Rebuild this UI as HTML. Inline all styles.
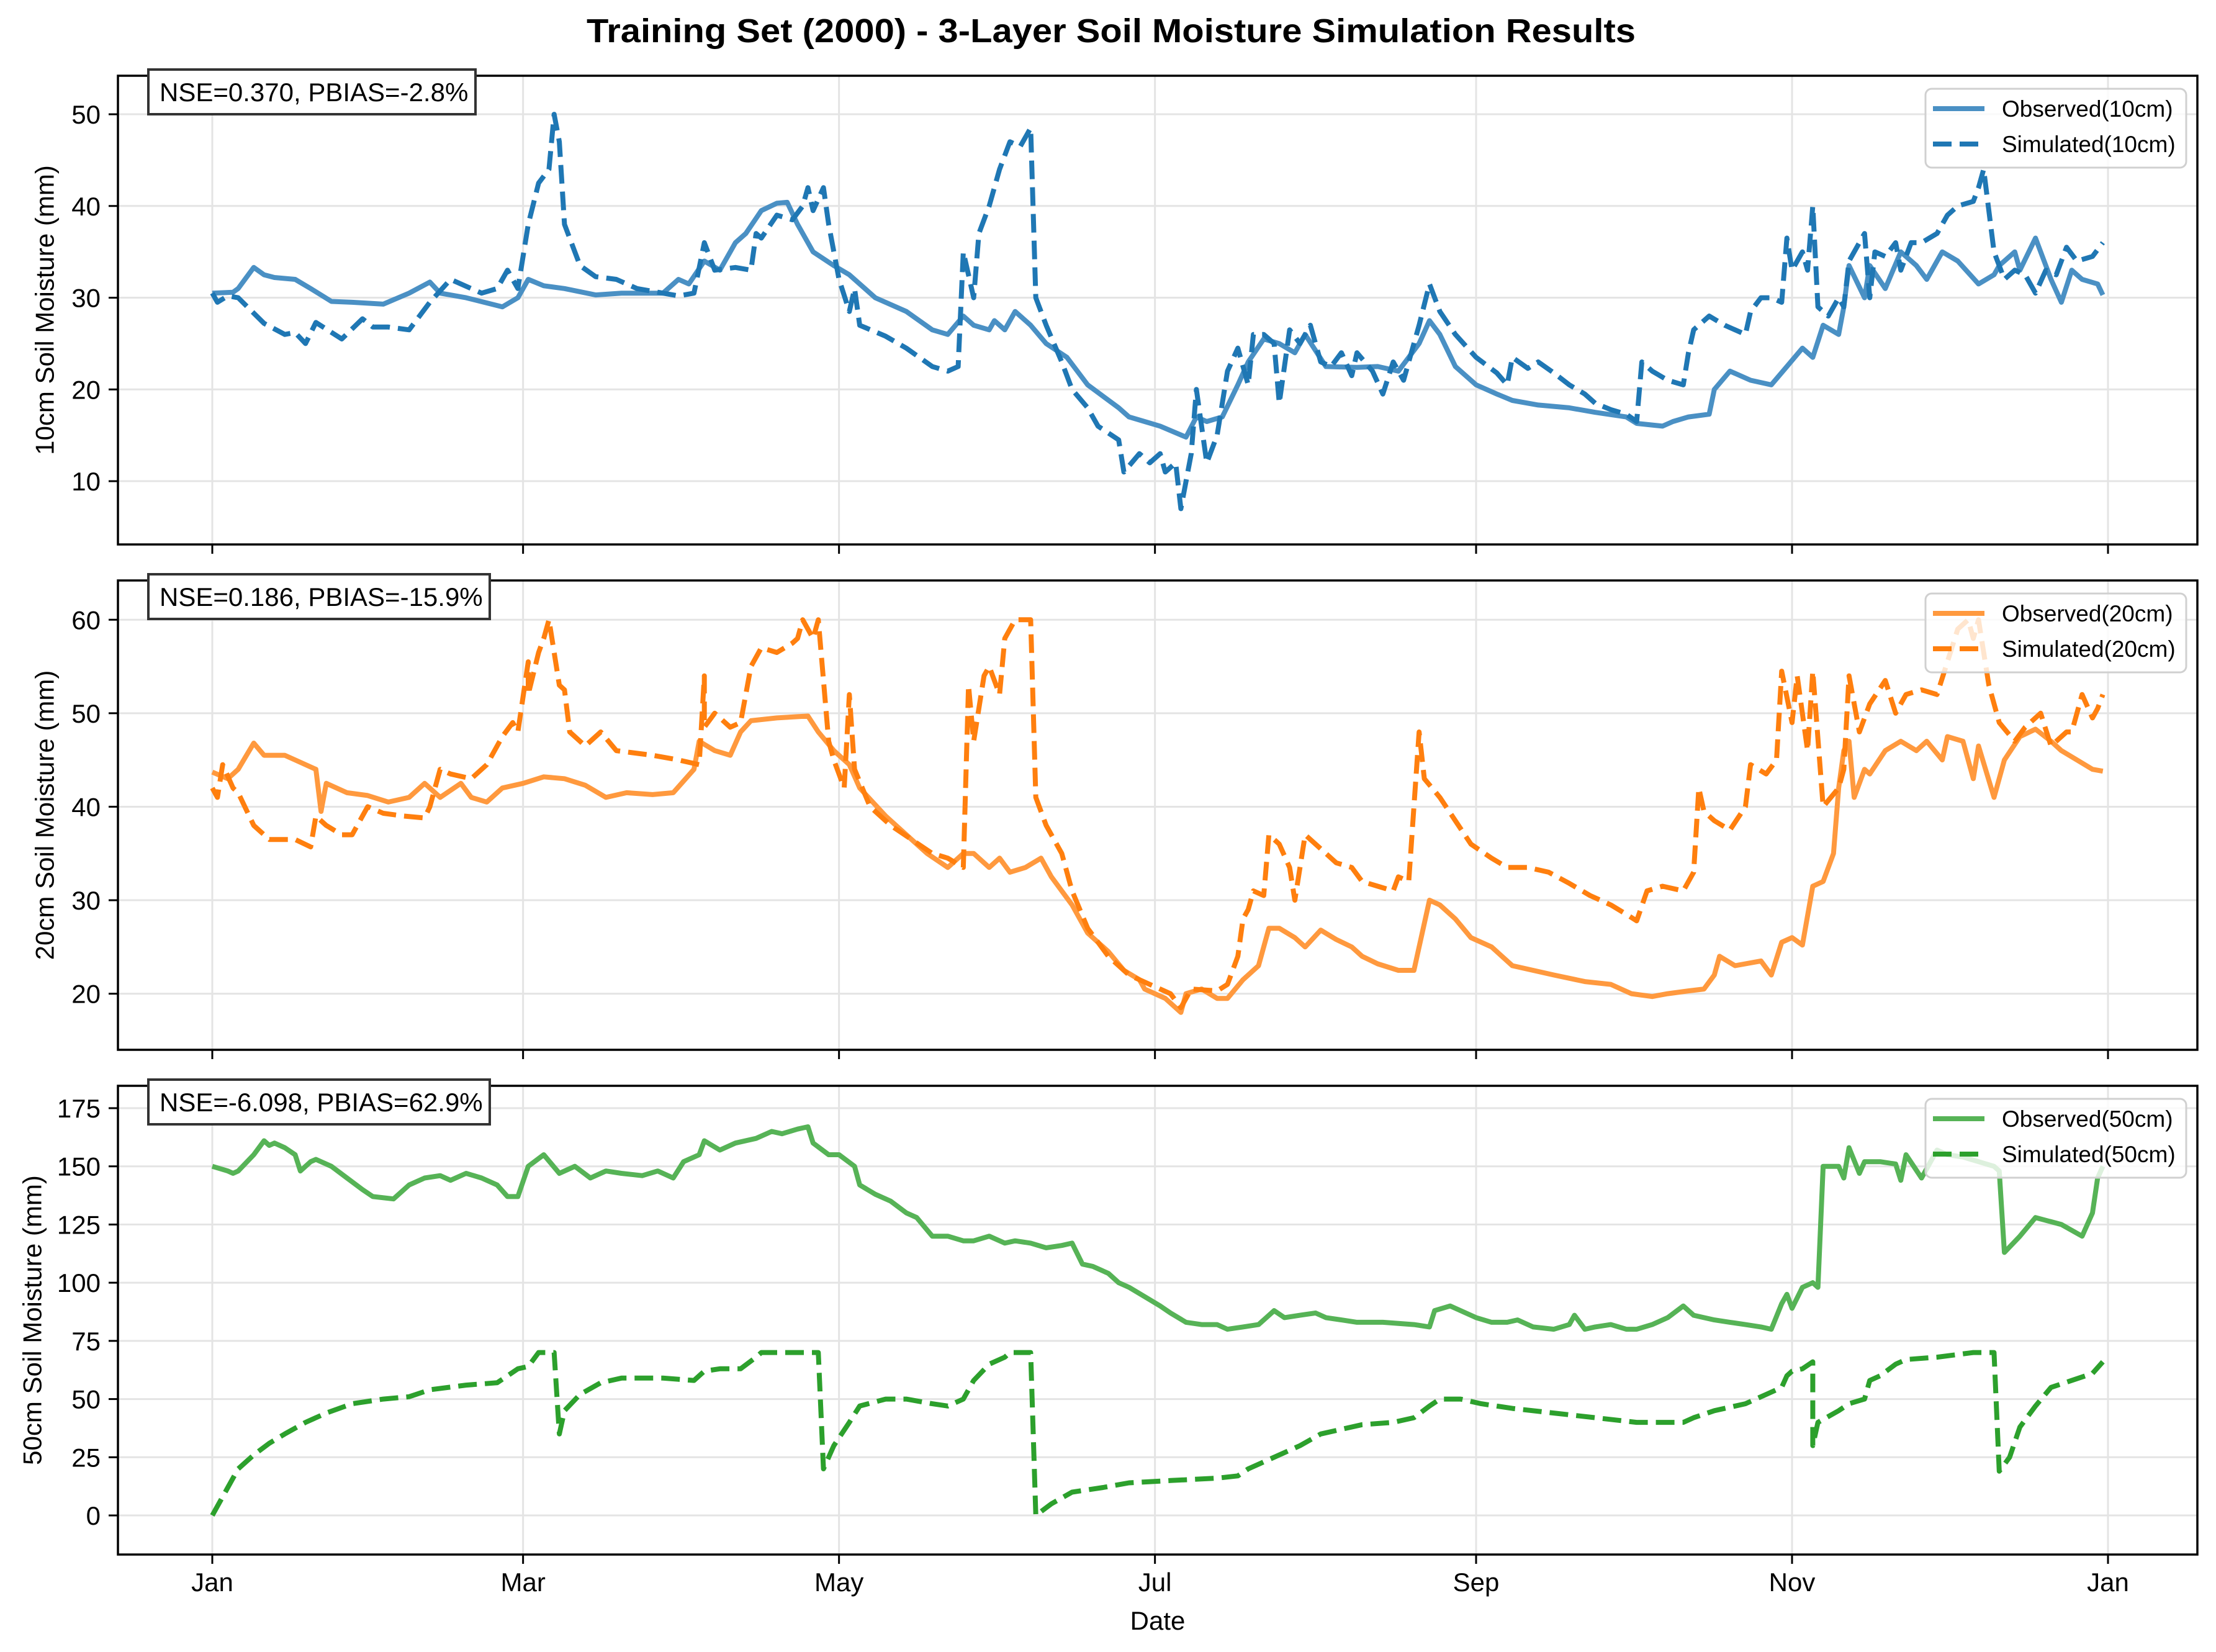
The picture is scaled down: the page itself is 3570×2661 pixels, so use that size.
<!DOCTYPE html>
<html><head><meta charset="utf-8"><title>Training Set (2000) - 3-Layer Soil Moisture</title>
<style>
html,body{margin:0;padding:0;background:#fff;}
svg{display:block;font-family:"Liberation Sans",Arial,sans-serif;}
</style></head>
<body>
<svg id="chart" xmlns="http://www.w3.org/2000/svg" width="3570" height="2661" viewBox="0 0 3570 2661">
<rect x="0" y="0" width="3570" height="2661" fill="#fff"/>
<text x="1790" y="68" text-anchor="middle" font-size="54" font-weight="bold" fill="#000" textLength="1690" lengthAdjust="spacingAndGlyphs">Training Set (2000) - 3-Layer Soil Moisture Simulation Results</text>
<text x="1865" y="2625" text-anchor="middle" font-size="42" fill="#000">Date</text>
</svg>
<script>
// ---- data (day-of-year index, 0 = Jan 1 2000) ----
const monthTickDays = [0, 60, 121, 182, 244, 305, 366];
const monthTickLabels = ["Jan", "Mar", "May", "Jul", "Sep", "Nov", "Jan"];

const obs10Days = [0,4,5,8,10,12,16,19,23,27,33,38,42,44,49,56,59,61,64,68,74,79,87,90,92,95,98,101,103,106,109,111,113,116,120,123,128,134,139,142,145,147,150,151,153,155,158,161,165,169,175,177,180,183,188,190,192,195,198,200,203,206,209,211,215,221,225,229,233,235,237,240,244,248,251,256,262,267,273,275,280,282,285,289,290,293,297,301,304,307,309,311,314,315,316,319,320,323,326,329,331,334,337,341,344,345,348,349,352,355,357,359,361,364,365];
const obs10Vals = [30.5,30.6,31,33.3,32.5,32.2,32,31,29.6,29.5,29.3,30.5,31.7,30.5,30,29,30,32,31.3,31,30.3,30.5,30.5,32,31.5,34,33,36,37,39.5,40.3,40.4,38,35,33.5,32.5,30,28.5,26.5,26,28,27,26.5,27.5,26.5,28.5,27,25,23.5,20.5,18,17,16.5,16,14.8,17,16.5,17,20.5,23,25.5,25,24,26,22.5,22.4,22.5,22,25,27.5,26,22.5,20.5,19.5,18.8,18.3,18,17.5,17,16.3,16,16.5,17,17.3,20,22,21,20.5,22.5,24.5,23.5,27,26,29,33.5,30,33.5,31,35,33.5,32,35,34,31.5,32.5,33.5,35,33,36.5,32,29.5,33,32,31.5,30.3];
const sim10Days = [0,1,3,5,10,14,16,18,20,25,29,31,34,38,42,46,52,55,57,59,61,63,65,66,67,68,71,74,78,82,87,90,93,95,97,101,104,105,106,109,112,114,115,116,118,119,121,123,124,125,130,134,139,142,144,145,147,148,150,152,154,156,158,159,161,164,166,169,171,175,176,179,181,183,184,186,187,189,190,192,194,196,198,200,201,203,205,206,208,210,212,214,216,218,220,221,224,226,228,230,231,233,235,237,240,244,248,250,251,254,256,259,262,265,267,270,273,275,276,278,281,284,285,286,289,292,296,297,299,301,303,304,305,307,308,309,310,312,314,315,316,319,320,321,323,325,326,328,330,333,335,337,340,341,342,344,346,348,350,352,354,356,358,360,363,365];
const sim10Vals = [30.5,29.5,30.2,30,27.2,26,26.2,25,27.3,25.5,27.7,26.8,26.8,26.5,29.5,32,30.5,31,33,31,38,42.5,44,50,47,38,33.5,32.3,32,31,30.5,30.2,30.5,36,33,33.3,33,37,36.5,39,38.5,40,42,39.5,42,38,32,28.5,31,27,25.8,24.5,22.5,22,22.5,35,30,37,40,44,47,46.5,48.5,30,27,23,20,18,16,14.5,11,13,12,13,11,12,7,13,20,12,15,22,24.5,20.5,26,26,25,18.5,26.5,25,27,23,22.5,24,21.5,24,22,19.5,23,21,23,27,31.5,28.5,26,23.5,21.8,20.5,23.5,22.3,23,21.8,20.5,19.5,18.5,17.8,17.3,16.5,23,22,21,20.5,24,26.5,28,27,26,28.5,30,30,29.5,36.5,33,35,33,40,29,28,30,29,34,37,30,35,34.5,36,33,36,36,37,39,40,40.5,42,44,35,32,33,32.5,30.5,33,32.5,35.5,34,34.5,36];

const obs20Days = [0,3,5,8,10,14,16,20,21,22,26,30,34,38,41,44,48,50,53,56,60,64,68,72,76,80,85,89,93,94,97,100,102,104,109,115,117,120,123,125,130,134,138,142,145,147,150,152,154,157,160,162,166,169,173,176,179,180,184,187,188,191,194,196,199,202,204,206,209,211,214,217,220,222,225,229,232,233,235,237,240,243,247,251,255,259,265,270,274,278,281,285,288,290,291,294,299,301,303,305,307,309,311,313,314,315,316,317,319,320,323,326,329,331,334,335,338,340,341,344,346,349,352,355,357,360,363,365];
const obs20Vals = [43.7,43,44,46.8,45.5,45.5,45,44,39.5,42.5,41.5,41.2,40.5,41,42.5,41,42.5,41,40.5,42,42.5,43.2,43,42.3,41,41.5,41.3,41.5,44,47,46,45.5,48,49.2,49.5,49.7,48,46,44.5,42,39,37,35,33.5,35,35,33.5,34.5,33,33.5,34.5,32.5,29.5,26.5,24.5,22.5,21.5,20.5,19.5,18,20,20.5,19.5,19.5,21.5,23,27,27,26,25,26.8,25.8,25,24,23.2,22.5,22.5,25,30,29.5,28,26,25,23,22.5,22,21.3,21,20,19.7,20,20.3,20.5,22,24,23,23.5,22,25.5,26,25.2,31.5,32,35,42,46,47,41,44,43.5,46,47,46,47,45,47.5,47,43,46.5,41,45,47.5,48.3,47,46,45,44,43.8];
const sim20Days = [0,1,2,4,5,8,11,14,16,19,20,22,25,27,30,33,37,41,42,44,46,50,53,56,58,59,61,61,63,64,65,67,68,69,72,75,78,85,90,94,95,95,97,100,102,104,106,109,112,113,114,116,117,119,120,122,123,124,127,131,135,139,142,145,146,147,149,150,152,153,155,158,159,161,164,166,169,173,177,181,185,187,189,194,196,198,199,200,201,203,204,206,208,209,211,214,217,220,222,225,228,229,231,233,234,237,240,243,247,250,254,258,262,266,270,273,275,277,280,284,286,287,288,290,293,296,297,300,302,303,305,306,308,309,311,314,315,316,318,320,323,325,327,330,333,335,337,339,340,341,343,345,348,350,353,355,358,359,361,363,364,365];
const sim20Vals = [42,41,44.5,42,41.5,38,36.5,36.5,36.5,35.7,39,38,37,37,40,39.3,39,38.8,40,44,43.5,43,44.5,47.5,49,48,55.5,52,56.5,58,60,53,52.5,48,46.5,48,46,45.5,45,44.5,54,48.5,50,48.5,49,55,57,56.5,57.5,58,60,58,60,47,45,42,52,44,40,38,36.5,35,34.5,33.5,53,47,54,55,52,58,60,60,41,38,35,31,27,24,22,21,20,18.5,20.5,20.3,21,24,28,29,31,30.5,37,36,33.5,30,37,35.5,34,33.5,32,31.5,31,32.5,32,48,43,41,38.5,36,34.5,33.5,33.5,33,31.8,30.5,29.5,28.5,27.8,31,31.5,31,33,42,39.5,38.5,37.5,40,44.5,43.5,45,54.5,49,54,46,54.5,40,42,44,54,48,51,53.5,50,52,52.5,52,55.5,59,60,58,60,53,49,47,48.5,50,46.5,48,48,52,49.5,50.5,52];

const obs50Days = [0,3,4,5,8,10,11,12,14,16,17,19,20,23,26,29,31,35,38,41,44,46,49,52,55,57,59,61,64,67,70,73,76,79,83,86,89,91,94,95,98,101,105,108,110,113,115,116,119,121,124,125,128,131,134,136,139,142,145,147,150,153,155,158,161,164,166,168,170,173,175,177,180,183,185,188,191,194,196,199,202,205,207,210,213,215,218,221,226,232,235,236,239,241,244,247,250,252,255,259,262,263,265,267,270,273,275,278,281,284,286,288,290,293,296,299,301,303,304,305,307,309,310,311,314,315,316,318,319,322,325,326,327,330,333,335,338,341,344,345,346,349,352,357,361,363,364,365];
const obs50Vals = [150,148,147,148,155,161,159,160,158,155,148,152,153,150,145,140,137,136,142,145,146,144,147,145,142,137,137,150,155,147,150,145,148,147,146,148,145,152,155,161,157,160,162,165,164,166,167,160,155,155,150,142,138,135,130,128,120,120,118,118,120,117,118,117,115,116,117,108,107,104,100,98,94,90,87,83,82,82,80,81,82,88,85,86,87,85,84,83,83,82,81,88,90,88,85,83,83,84,81,80,82,86,80,81,82,80,80,82,85,90,86,85,84,83,82,81,80,91,95,89,98,100,98,150,150,145,158,147,152,152,151,144,155,145,157,155,154,152,150,148,113,120,128,125,120,130,145,150];
const sim50Days = [0,3,5,8,11,14,18,22,27,33,38,42,49,55,57,59,61,63,65,66,67,68,71,75,79,87,93,95,98,102,105,106,117,118,120,123,125,130,134,139,142,145,147,150,153,154,158,159,162,166,172,177,185,194,198,200,205,210,214,218,222,228,232,235,237,241,245,251,259,267,275,284,286,290,296,300,303,304,305,307,309,309,310,314,316,319,320,322,325,327,333,340,344,345,347,349,352,355,359,363,365];
const sim50Vals = [0,12,20,26,31,35,40,44,48,50,51,54,56,57,60,63,64,70,70,70,35,45,52,57,59,59,58,62,63,63,68,70,70,20,30,40,47,50,50,48,47,50,58,65,68,70,70,0,5,10,12,14,15,16,17,20,25,30,35,37,39,40,42,47,50,50,48,46,44,42,40,40,42,45,48,52,55,60,62,63,66,30,40,45,48,50,58,60,65,67,68,70,70,19,25,38,47,55,58,61,66];

const panelTicks10 = [10, 20, 30, 40, 50];
const panelTicks20 = [20, 30, 40, 50, 60];
const panelTicks50 = [0, 25, 50, 75, 100, 125, 150, 175];

// ---- layout ----
const NS = "http://www.w3.org/2000/svg";
const svg = document.getElementById('chart');
const X0 = 190, X1 = 3540;
const xDay = d => 342 + d * (3396 - 342) / 366;

const panels = [
  {top:122, bottom:877, ymin:3.1, ymax:54.2, ticks:panelTicks10, label:"10cm Soil Moisture (mm)", labelX:72,
   stat:"NSE=0.370, PBIAS=-2.8%", boxW:527, depth:"10cm", obsC:"#4a90c4", simC:"#1f77b4",
   obsD:obs10Days, obsV:obs10Vals, simD:sim10Days, simV:sim10Vals, key:"10cm"},
  {top:935, bottom:1691, ymin:14.0, ymax:64.2, ticks:panelTicks20, label:"20cm Soil Moisture (mm)", labelX:72,
   stat:"NSE=0.186, PBIAS=-15.9%", boxW:550, depth:"20cm", obsC:"#ff993e", simC:"#ff7f0e",
   obsD:obs20Days, obsV:obs20Vals, simD:sim20Days, simV:sim20Vals, key:"20cm"},
  {top:1749, bottom:2504, ymin:-16.8, ymax:184.6, ticks:panelTicks50, label:"50cm Soil Moisture (mm)", labelX:52,
   stat:"NSE=-6.098, PBIAS=62.9%", boxW:550, depth:"50cm", obsC:"#56b356", simC:"#2ca02c",
   obsD:obs50Days, obsV:obs50Vals, simD:sim50Days, simV:sim50Vals, key:"50cm"}
];

function mk(tag, attrs, parent) {
  const e = document.createElementNS(NS, tag);
  for (const k in attrs) e.setAttribute(k, attrs[k]);
  (parent || svg).appendChild(e);
  return e;
}

panels.forEach((p, pi) => {
  const yv = v => p.bottom - (v - p.ymin) / (p.ymax - p.ymin) * (p.bottom - p.top);
  const g = mk('g', {});
  
  

  const clipId = 'clip' + pi;
  const cp = mk('clipPath', {id: clipId}, g);
  mk('rect', {x: X0, y: p.top, width: X1 - X0, height: p.bottom - p.top}, cp);

  p.ticks.forEach(t => {
    const l = mk('line', {x1: X0, x2: X1, y1: yv(t), y2: yv(t), stroke: '#e4e4e4', 'stroke-width': 3}, g);
    
    
  });
  monthTickDays.forEach(d => {
    const l = mk('line', {x1: xDay(d), x2: xDay(d), y1: p.top, y2: p.bottom, stroke: '#e4e4e4', 'stroke-width': 3}, g);
    
    
  });

  const ptsObs = p.obsD.map((d, i) => xDay(d).toFixed(1) + ',' + yv(p.obsV[i]).toFixed(1)).join(' ');
  const obs = mk('polyline', {points: ptsObs, fill: 'none', stroke: p.obsC, 'stroke-width': 8, 'stroke-linejoin': 'round', 'clip-path': 'url(#' + clipId + ')'}, g);
  
  
  const ptsSim = p.simD.map((d, i) => xDay(d).toFixed(1) + ',' + yv(p.simV[i]).toFixed(1)).join(' ');
  const sim = mk('polyline', {points: ptsSim, fill: 'none', stroke: p.simC, 'stroke-width': 8, 'stroke-dasharray': '30 13', 'stroke-linejoin': 'round', 'clip-path': 'url(#' + clipId + ')'}, g);
  
  

  const fr = mk('rect', {x: X0, y: p.top, width: X1 - X0, height: p.bottom - p.top, fill: 'none', stroke: '#000', 'stroke-width': 3.5}, g);
  
  

  p.ticks.forEach(t => {
    const tk = mk('line', {x1: X0 - 15, x2: X0, y1: yv(t), y2: yv(t), stroke: '#000', 'stroke-width': 3}, g);
    
    
    const tl = mk('text', {x: X0 - 28, y: yv(t) + 15, 'text-anchor': 'end', 'font-size': 42, fill: '#000'}, g);
    tl.textContent = String(t);
    
    
  });
  monthTickDays.forEach((d, i) => {
    const tk = mk('line', {x1: xDay(d), x2: xDay(d), y1: p.bottom, y2: p.bottom + 15, stroke: '#000', 'stroke-width': 3}, g);
    
    
    if (pi === 2) {
      const tl = mk('text', {x: xDay(d), y: p.bottom + 59, 'text-anchor': 'middle', 'font-size': 42, fill: '#000'}, g);
      tl.textContent = monthTickLabels[i];
      
      
    }
  });

  const cy = (p.top + p.bottom) / 2;
  const yl = mk('text', {x: p.labelX, y: cy, 'text-anchor': 'middle', 'dominant-baseline': 'central', 'font-size': 42, fill: '#000', transform: 'rotate(-90 ' + p.labelX + ' ' + cy + ')'}, g);
  yl.textContent = p.label;
  
  

  const bx = mk('rect', {x: 239, y: p.top - 10, width: p.boxW, height: 72, fill: '#fff', stroke: '#333', 'stroke-width': 4}, g);
  
  
  const st = mk('text', {x: 257, y: p.top + 41, 'font-size': 42, fill: '#000'}, g);
  st.textContent = p.stat;
  
  

  const lg = mk('g', {}, g);
  
  
  mk('rect', {x: 3102, y: p.top + 21, width: 420, height: 127, rx: 10, fill: 'rgba(255,255,255,0.8)', stroke: '#d0d0d0', 'stroke-width': 3}, lg);
  const l1 = mk('line', {x1: 3114, x2: 3197, y1: p.top + 53, y2: p.top + 53, stroke: p.obsC, 'stroke-width': 8}, lg);
  
  
  const t1 = mk('text', {x: 3225, y: p.top + 66, 'font-size': 37, fill: '#000'}, lg);
  t1.textContent = 'Observed(' + p.depth + ')';
  
  
  const l2 = mk('line', {x1: 3114, x2: 3197, y1: p.top + 110, y2: p.top + 110, stroke: p.simC, 'stroke-width': 8, 'stroke-dasharray': '30 13'}, lg);
  
  
  const t2 = mk('text', {x: 3225, y: p.top + 123, 'font-size': 37, fill: '#000'}, lg);
  t2.textContent = 'Simulated(' + p.depth + ')';
  
  
});
</script>
</body></html>
